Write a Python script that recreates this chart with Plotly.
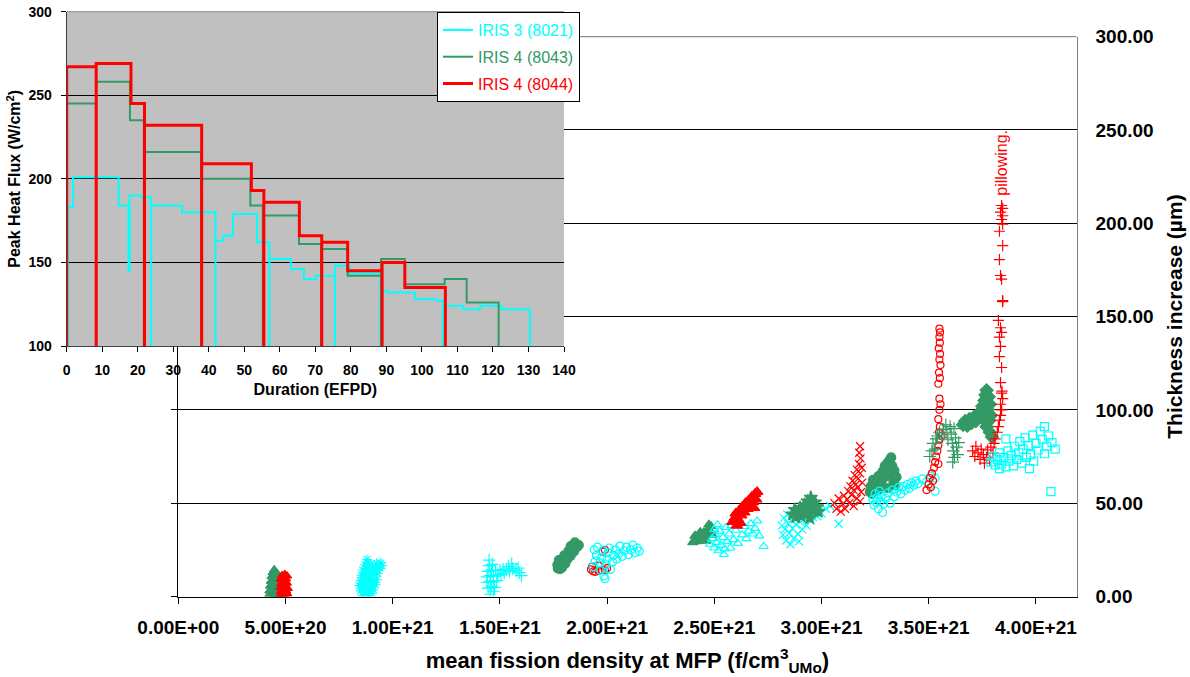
import plotly.graph_objects as go

FONT = "Liberation Sans, Arial, sans-serif"
CYAN = "#00FFFF"
GREEN = "#339966"
RED = "#FF0000"

# ---------------- inset: peak heat flux history ----------------
# step boundaries (EFPD), flux level on each interval (W/cm2), shutdown times
iris3_t = [0.3, 1.8, 14.6, 17.4, 17.7, 20.8, 23.8, 32.5, 41.9, 44.1, 46.8, 53.6, 57.1,
           63.1, 66.8, 70.2, 75.5, 79.7, 88.3, 90.2, 98.1, 104.3, 105.9, 111.5, 116.4,
           122.3, 130.4]
iris3_q = [183, 201, 184, 145, 190, 189, 184, 180, 163, 166, 179, 162, 152, 146, 140,
           142, 148, 143.5, 133, 132, 128, 127, 124, 122, 124, 122]
iris3_off = [23.8, 41.9, 57.1, 75.5, 88.3, 105.9, 130.4]

iris4a_t = [0, 8.3, 17.8, 21.7, 37.8, 51.7, 55.2, 65.4, 71.6, 79.1, 88.5, 95.2, 106.4,
            112.6, 121.6]
iris4a_q = [245, 258, 235, 216, 200, 184, 178, 161, 158, 142, 152, 137, 140, 126]
iris4a_off = [8.3, 21.7, 37.8, 55.2, 71.6, 88.5, 121.6]

iris4b_t = [0, 8.3, 18.1, 21.9, 38.0, 52.0, 55.5, 65.5, 71.8, 79.1, 88.8, 95.2, 106.6]
iris4b_q = [267, 269, 245, 232, 209, 193, 186, 166, 162, 145, 150, 135]
iris4b_off = [8.3, 21.9, 38.0, 55.5, 71.8, 88.8, 106.6]

efpd_ticks = list(range(0, 141, 10))
flux_ticks = [100, 150, 200, 250, 300]

# ---------------- main: thickness increase vs fission density ----------------
# fission density in 1e21 f/cm3, thickness increase in um
g1_fd = [0.422, 0.430, 0.440, 0.452, 0.462, 0.425, 0.436, 0.447, 0.458, 0.468, 0.428, 0.440,
         0.451, 0.463, 0.432, 0.445, 0.456, 0.466, 0.435, 0.448, 0.460, 0.440, 0.452, 0.462, 0.447]
g1_dt = [0.5, 1.5, 0.8, 1.2, 0.6, 3.0, 4.2, 3.5, 2.8, 3.9, 5.6, 6.8, 6.0, 5.2, 8.1, 9.0, 8.4,
         7.6, 10.6, 11.4, 10.2, 12.8, 13.6, 12.2, 14.3]

r1_fd = [0.475, 0.487, 0.498, 0.508, 0.479, 0.491, 0.503, 0.476, 0.488, 0.500, 0.510, 0.481,
         0.494, 0.506, 0.478, 0.490, 0.502, 0.484, 0.497, 0.507]
r1_dt = [0.4, 1.0, 0.6, 1.4, 2.6, 3.4, 2.9, 4.8, 5.5, 5.0, 4.4, 7.0, 7.8, 7.2, 9.3, 9.9, 9.4,
         11.2, 11.8, 11.0]

c1_fd = [0.86, 0.875, 0.89, 0.905, 0.85, 0.865, 0.88, 0.895, 0.91, 0.845, 0.86, 0.875, 0.89,
         0.905, 0.92, 0.85, 0.865, 0.88, 0.895, 0.91, 0.925, 0.855, 0.87, 0.885, 0.90, 0.915,
         0.93, 0.86, 0.875, 0.89, 0.905, 0.92, 0.94, 0.87, 0.885, 0.90, 0.925, 0.945, 0.88, 0.95]
c1_dt = [0.5, 1.2, 0.8, 1.6, 3.0, 3.8, 3.2, 4.0, 3.5, 5.8, 6.5, 5.5, 6.8, 6.0, 6.2, 8.5, 9.2,
         8.0, 9.5, 8.8, 9.0, 11.5, 12.0, 11.0, 12.5, 11.8, 12.4, 14.2, 15.0, 14.0, 15.5, 14.8,
         15.2, 17.0, 18.2, 17.5, 17.8, 18.0, 19.8, 16.5]

c2_fd = [1.455, 1.47, 1.445, 1.46, 1.475, 1.44, 1.455, 1.47, 1.485, 1.44, 1.455, 1.47, 1.49,
         1.505, 1.52, 1.445, 1.46, 1.48, 1.50, 1.515, 1.53, 1.545, 1.56, 1.575, 1.59, 1.45,
         1.465, 1.54, 1.555, 1.45, 1.60, 1.585]
c2_dt = [1.2, 2.8, 4.5, 5.5, 4.8, 7.5, 8.2, 7.8, 8.5, 10.5, 11.2, 10.8, 11.5, 12.0, 12.5, 13.5,
         14.2, 13.8, 14.0, 14.5, 14.2, 13.5, 14.8, 14.0, 12.8, 16.5, 17.2, 16.0, 17.5, 19.5,
         11.2, 15.2]

g2_fd = [1.77, 1.78, 1.79, 1.768, 1.78, 1.795, 1.805, 1.775, 1.79, 1.805, 1.815, 1.80, 1.815,
         1.83, 1.82, 1.835, 1.845, 1.83, 1.845, 1.86, 1.868, 1.85]
g2_dt = [15.0, 14.6, 15.5, 17.0, 17.5, 16.8, 17.6, 19.5, 19.8, 19.2, 20.0, 22.0, 22.5, 21.8,
         24.5, 25.0, 24.0, 27.0, 27.8, 26.5, 27.5, 29.0]

r2_fd = [1.925, 1.935, 1.945, 1.96, 1.975, 1.99, 1.93, 2.0, 1.98, 1.99, 1.96]
r2_dt = [14.5, 13.5, 13.2, 13.8, 14.2, 14.0, 16.0, 15.2, 24.0, 25.0, 16.5]

c3_fd = [1.935, 1.945, 1.95, 1.94, 1.955, 1.965, 1.97, 1.975, 1.98, 1.985, 1.99, 1.995, 2.0,
         2.005, 2.01, 2.015, 2.025, 2.03, 2.04, 2.045, 2.055, 2.06, 2.07, 2.08, 2.09, 2.1,
         2.11, 2.12, 2.13, 2.14, 2.15]
c3_dt = [16, 19, 22, 25, 26.5, 18, 14, 21, 24.5, 11, 9.5, 17, 20, 23.5, 26, 14.5, 18.5, 22,
         25, 20, 23, 27, 21.5, 24.5, 26.5, 22.5, 25, 27.5, 23.5, 26, 24.2]

g3_fd = [2.40, 2.41, 2.42, 2.43, 2.44, 2.41, 2.425, 2.44, 2.455, 2.45, 2.465, 2.47, 2.48,
         2.485, 2.475, 2.49, 2.46, 2.435]
g3_dt = [29.0, 30.5, 29.5, 31.0, 30.0, 32.5, 33.0, 32.5, 31.5, 34.0, 33.5, 36.0, 35.0, 37.5,
         38.5, 33.0, 29.8, 34.5]

c4_fd = [2.48, 2.49, 2.50, 2.505, 2.51, 2.52, 2.525, 2.53, 2.54, 2.545, 2.55, 2.555, 2.56,
         2.57, 2.575, 2.58, 2.59, 2.60, 2.61, 2.62, 2.63, 2.64, 2.65, 2.66, 2.67, 2.68, 2.69,
         2.70, 2.71, 2.73, 2.50, 2.515]
c4_dt = [28, 31, 26, 33, 29, 24.5, 35, 27.5, 31.5, 22.5, 25.5, 37, 29.5, 33.5, 26, 38, 30.5,
         35.5, 28.5, 39.5, 33, 37.5, 31, 35, 39, 33.5, 36.5, 40.5, 32.5, 26.8, 36, 38.5]

r3_fd = [2.585, 2.595, 2.60, 2.61, 2.615, 2.625, 2.63, 2.64, 2.645, 2.655, 2.66, 2.67, 2.675,
         2.68, 2.69, 2.695, 2.70, 2.62, 2.605, 2.685]
r3_dt = [40, 42, 44.5, 41.5, 46, 43.5, 48, 45, 50, 47, 51.5, 49, 53.5, 50.5, 55, 52, 56, 39.5,
         38, 47.5]

c5_fd = [2.815, 2.82, 2.825, 2.83, 2.835, 2.84, 2.845, 2.85, 2.855, 2.86, 2.865, 2.87, 2.875,
         2.88, 2.89, 2.895, 2.90, 2.91, 2.92, 2.93, 2.94, 2.95, 2.96, 2.97, 2.98, 2.99, 3.00,
         3.02, 3.04, 3.08]
c5_dt = [38, 33, 42, 36, 30, 44, 39, 34, 28, 41, 36.5, 31, 44.5, 38.5, 33.5, 29.5, 40, 36, 42,
         38, 44, 40.5, 42.5, 45, 43, 46, 44.5, 47, 48.5, 39]

g4_fd = [2.865, 2.875, 2.88, 2.89, 2.90, 2.905, 2.915, 2.92, 2.93, 2.935, 2.94, 2.95, 2.955,
         2.965, 2.97, 2.98, 2.985, 2.945]
g4_dt = [44, 46.5, 42.5, 45, 47.5, 43, 46, 49, 44.5, 51, 47.5, 53, 49, 46, 50.5, 48, 45.5, 42]

r4_fd = [3.06, 3.07, 3.08, 3.09, 3.10, 3.105, 3.11, 3.12, 3.125, 3.13, 3.135, 3.14, 3.145,
         3.15, 3.155, 3.16, 3.165, 3.17, 3.175, 3.18, 3.182, 3.176, 3.18, 3.17, 3.185, 3.19,
         3.188, 3.165, 3.15, 3.18]
r4_dt = [50, 47, 52.5, 45.5, 49.5, 54, 47, 52, 56.5, 50, 59, 54.5, 62, 57, 65, 60, 68, 63, 71,
         66, 74, 77, 80.5, 58.5, 56, 61, 69, 52.5, 48.5, 51]

g5_fd = [3.225, 3.23, 3.24, 3.235, 3.25, 3.26, 3.265, 3.27, 3.28, 3.285, 3.29, 3.295, 3.30,
         3.31, 3.315, 3.32, 3.325, 3.33, 3.335, 3.34, 3.35, 3.345, 3.31, 3.325]
g5_dt = [56, 59, 62.5, 55, 58, 61, 64.5, 57.5, 60.5, 67, 63.5, 70, 66, 72, 68.5, 73.5, 65, 70,
         62, 67.5, 64, 59.5, 58, 74.5]

c6_fd = [3.24, 3.245, 3.25, 3.255, 3.26, 3.265, 3.27, 3.275, 3.28, 3.285, 3.29, 3.30, 3.31,
         3.32, 3.33, 3.34, 3.35, 3.36, 3.37, 3.38, 3.39, 3.40, 3.41, 3.42, 3.43, 3.44, 3.45,
         3.47, 3.49, 3.51, 3.53, 3.53]
c6_dt = [52, 49, 55, 50.5, 53, 47, 56.5, 51, 54, 45, 49.5, 52.5, 55.5, 50, 57, 53.5, 56, 58.5,
         55, 59, 57, 60, 58, 61, 59.5, 62, 60.5, 63, 61.5, 64.5, 63.5, 56.4]

r5_fd = [3.49, 3.50, 3.505, 3.51, 3.515, 3.52, 3.525, 3.53, 3.535, 3.54, 3.545, 3.55, 3.548,
         3.552, 3.545, 3.55, 3.555, 3.55, 3.545, 3.552, 3.548, 3.555, 3.55, 3.553, 3.547,
         3.552, 3.55, 3.553, 3.55, 3.56, 3.545]
r5_dt = [57, 60, 63.5, 58.5, 66, 62, 69, 72, 75, 78, 81, 84, 88, 91, 95, 100, 103, 106, 114,
         117, 120, 124, 127, 130, 133, 136, 139, 141.5, 143.5, 86, 71]

g6_fd = [3.505, 3.515, 3.52, 3.53, 3.535, 3.54, 3.55, 3.56, 3.57, 3.58, 3.585, 3.59, 3.60,
         3.605, 3.61, 3.615, 3.62, 3.625, 3.63, 3.635, 3.64, 3.618, 3.612]
g6_dt = [75, 78, 82, 79, 84.5, 86, 88, 85, 89.5, 92, 88, 84, 91, 87, 82, 78, 74.5, 85, 80, 76,
         82.5, 90, 72]

g7_fd = [3.66, 3.67, 3.68, 3.69, 3.70, 3.71, 3.72, 3.73, 3.74, 3.75, 3.76, 3.765, 3.77, 3.78,
         3.785, 3.775, 3.79, 3.78, 3.77, 3.785, 3.795, 3.76, 3.75, 3.765]
g7_dt = [92, 94, 91.5, 95, 93, 96, 94, 97, 99, 102, 105, 108, 110.5, 107, 103, 100, 97, 94,
         91, 88, 85.5, 97, 95.5, 101.5]

r6_fd = [3.705, 3.715, 3.72, 3.73, 3.74, 3.745, 3.755, 3.76, 3.77, 3.775, 3.785, 3.79, 3.80,
         3.805, 3.81, 3.82, 3.825, 3.83, 3.835, 3.84, 3.835, 3.845, 3.84, 3.835, 3.84, 3.83,
         3.835, 3.83, 3.84, 3.835, 3.825, 3.845, 3.845, 3.84, 3.835, 3.83, 3.845, 3.83, 3.845,
         3.84, 3.845, 3.835, 3.845, 3.84, 3.842]
r6_dt = [78, 75, 80.5, 77, 73.5, 79, 76, 71.5, 74.5, 78.5, 73, 80, 77, 82, 84.5, 88, 91, 94.5,
         97, 100, 103, 106, 109, 114.6, 122.7, 128.5, 134, 139, 141.5, 144, 148, 158, 158.5,
         170, 172, 180.5, 188, 195.7, 199.5, 202, 204, 206, 208, 209.5, 110]

c7_fd = [3.79, 3.80, 3.81, 3.82, 3.83, 3.84, 3.85, 3.86, 3.87, 3.875, 3.885, 3.895, 3.90, 3.91,
         3.92, 3.925, 3.935, 3.94, 3.95, 3.955, 3.965, 3.975, 3.985, 3.99, 4.00, 4.01, 4.02,
         4.03, 4.04, 4.05, 4.06, 4.075, 4.09, 3.86, 3.83, 3.97, 4.04, 4.07]
c7_dt = [72, 75, 70.5, 73.5, 77, 71, 74.5, 69.5, 78, 72.5, 75.5, 70, 80.5, 73.5, 77, 83, 71.5,
         79, 85, 74.5, 81, 76, 86.5, 72.5, 82, 78.5, 88.5, 84, 76.5, 80.5, 86, 82.5, 79, 84.5,
         68.5, 68.5, 91, 56.2]

fd_tick_vals = [0, 0.5e21, 1.0e21, 1.5e21, 2.0e21, 2.5e21, 3.0e21, 3.5e21, 4.0e21]
fd_tick_text = ["0.00E+00", "5.00E+20", "1.00E+21", "1.50E+21", "2.00E+21", "2.50E+21",
                "3.00E+21", "3.50E+21", "4.00E+21"]
dt_ticks = [0, 50, 100, 150, 200, 250, 300]


def step_path(t, q, off, base=100):
    """Vertices of a heat-flux history drawn as steps, dropping to the base at shutdowns."""
    xs, ys = [t[0]], [base]
    for i, level in enumerate(q):
        xs += [t[i], t[i + 1]]
        ys += [level, level]
        if t[i + 1] in off:
            xs.append(t[i + 1])
            ys.append(base)
    return xs, ys


fig = go.Figure()

# scatter clusters: (fd, dt, colour, symbol, size, y axis)
# the last cluster sits on the right-hand axis, which shares the same 0-300 scale
clusters = [
    (g1_fd, g1_dt, GREEN, "triangle-up", 8, "y"),
    (r1_fd, r1_dt, RED, "triangle-up", 8, "y"),
    (c1_fd, c1_dt, CYAN, "asterisk-open", 8, "y"),
    (c2_fd, c2_dt, CYAN, "cross-thin-open", 9, "y"),
    (g2_fd, g2_dt, GREEN, "circle", 9, "y"),
    (r2_fd, r2_dt, RED, "circle-open", 7, "y"),
    (c3_fd, c3_dt, CYAN, "circle-open", 8, "y"),
    (g3_fd, g3_dt, GREEN, "triangle-up", 9, "y"),
    (c4_fd, c4_dt, CYAN, "triangle-up-open", 8, "y"),
    (r3_fd, r3_dt, RED, "triangle-up", 10, "y"),
    (c5_fd, c5_dt, CYAN, "x-thin-open", 8, "y"),
    (g4_fd, g4_dt, GREEN, "star", 10, "y"),
    (r4_fd, r4_dt, RED, "x-thin-open", 8, "y"),
    (g5_fd, g5_dt, GREEN, "circle", 9, "y"),
    (c6_fd, c6_dt, CYAN, "circle-open", 8, "y"),
    (r5_fd, r5_dt, RED, "circle-open", 7, "y"),
    (g6_fd, g6_dt, GREEN, "cross-thin-open", 9, "y"),
    (g7_fd, g7_dt, GREEN, "diamond", 10, "y"),
    (r6_fd, r6_dt, RED, "cross-thin-open", 8, "y"),
    (c7_fd, c7_dt, CYAN, "square-open", 8, "y2"),
]
for fd, dt, col, sym, sz, yax in clusters:
    fig.add_trace(go.Scatter(
        x=[v * 1e21 for v in fd], y=dt, mode="markers", xaxis="x", yaxis=yax,
        showlegend=False, hoverinfo="skip",
        marker=dict(symbol=sym, size=sz, color=col, line=dict(color=col, width=1.2)),
    ))

# inset heat-flux histories
for t, q, off, col, w, name in [
    (iris3_t, iris3_q, iris3_off, CYAN, 2, "IRIS 3 (8021)"),
    (iris4a_t, iris4a_q, iris4a_off, GREEN, 2, "IRIS 4 (8043)"),
    (iris4b_t, iris4b_q, iris4b_off, RED, 3, "IRIS 4 (8044)"),
]:
    xs, ys = step_path(t, q, off)
    fig.add_trace(go.Scatter(
        x=xs, y=ys, mode="lines", xaxis="x2", yaxis="y3",
        line=dict(color=col, width=w), legendgroup=name,
        name=f"<span style='color:{col}'>{name}</span>",
    ))

W, H = 1190, 677
mx0, mx1, my0, my1 = 178.3, 1076.7, 596.5, 36.6
ix0, ix1, iy0, iy1 = 66.7, 564.0, 346.0, 11.6
fd_max = (mx1 - mx0) / 107.2 * 0.5e21
dt_range = [0, 300]
flux_range = [100, 300]

bold = dict(family=FONT, color="black", weight="bold")

fig.update_layout(
    width=W, height=H,
    margin=dict(l=0, r=0, t=0, b=0),
    paper_bgcolor="white", plot_bgcolor="rgba(0,0,0,0)",
    font=dict(family=FONT, color="black"),
    xaxis=dict(
        domain=[mx0 / W, mx1 / W], range=[0, fd_max], anchor="y", automargin=False,
        tickvals=fd_tick_vals, ticktext=fd_tick_text,
        ticks="outside", ticklen=6, tickcolor="black", ticklabelstandoff=8,
        tickfont=dict(size=19, **bold),
        showline=True, linecolor="black", linewidth=1, showgrid=False, zeroline=False,
        title=dict(text="mean fission density at MFP (f/cm<sup>3</sup><sub>UMo</sub>)",
                   font=dict(size=22, **bold), standoff=15),
    ),
    yaxis=dict(
        domain=[(H - my0) / H, (H - my1) / H], range=dt_range, anchor="x", automargin=False,
        tickvals=dt_ticks, showticklabels=False, ticks="outside", ticklen=6,
        tickcolor="black", showline=True, linecolor="black", linewidth=1,
        showgrid=True, gridcolor="black", gridwidth=1, zeroline=False,
    ),
    yaxis2=dict(
        overlaying="y", side="right", anchor="x", range=dt_range, automargin=False,
        tickvals=dt_ticks, tickformat=".2f", ticks="", ticklabelstandoff=14,
        tickfont=dict(size=19, **bold),
        showline=True, linecolor="#808080", linewidth=1, showgrid=False, zeroline=False,
        title=dict(text="Thickness increase (µm)", font=dict(size=21, **bold), standoff=14),
    ),
    xaxis2=dict(
        domain=[ix0 / W, ix1 / W], range=[0, 140], anchor="y3", automargin=False,
        tickvals=efpd_ticks, ticks="outside", ticklen=5, tickcolor="black",
        ticklabelstandoff=6, tickfont=dict(size=14, **bold),
        showline=True, linecolor="#404040", linewidth=1, showgrid=False, zeroline=False,
        title=dict(text="Duration (EFPD)", font=dict(size=16, **bold), standoff=7),
    ),
    yaxis3=dict(
        domain=[(H - iy0) / H, (H - iy1) / H], range=flux_range, anchor="x2",
        automargin=False,
        tickvals=flux_ticks, ticks="outside", ticklen=5, tickcolor="black",
        ticklabelstandoff=6, tickfont=dict(size=14, **bold),
        showline=True, linecolor="#404040", linewidth=1,
        showgrid=True, gridcolor="black", gridwidth=1, zeroline=False,
        title=dict(text="Peak Heat Flux (W/cm<sup>2</sup>)", font=dict(size=16, **bold),
                   standoff=3),
    ),
    legend=dict(
        x=437 / W, y=(H - 12) / H, xanchor="left", yanchor="top",
        bgcolor="white", bordercolor="black", borderwidth=1,
        font=dict(family=FONT, size=16), itemwidth=30, tracegroupgap=3,
    ),
    shapes=[
        # top border of the main plot area (the 300 um grid level)
        dict(type="line", xref="x", yref="y", x0=0, x1=fd_max, y0=300, y1=300,
             line=dict(color="black", width=1), layer="below"),
        # grey plot area of the inset and its top border
        dict(type="rect", xref="x2", yref="y3", x0=0, x1=140, y0=100, y1=300,
             fillcolor="#C0C0C0", line=dict(width=0), layer="below"),
        dict(type="line", xref="x2", yref="y3", x0=0, x1=140, y0=300, y1=300,
             line=dict(color="#404040", width=1), layer="below"),
    ],
    annotations=[
        dict(x=3.838e21, y=232.5, xref="x", yref="y", text="pillowing.", showarrow=False,
             textangle=-90, font=dict(family=FONT, size=16, color=RED)),
    ],
)

fig.write_html("out.html")
